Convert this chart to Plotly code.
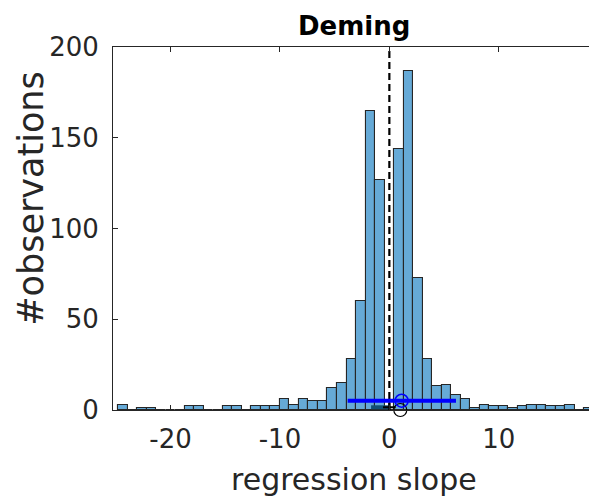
import plotly.graph_objects as go

# ---- data ----
bin_centers = [-24.36, -23.49, -22.62, -21.75, -20.88, -20.01, -19.14, -18.27, -17.40, -16.53,
               -15.66, -14.79, -13.92, -13.05, -12.18, -11.31, -10.44, -9.57, -8.70, -7.83,
               -6.96, -6.09, -5.22, -4.35, -3.48, -2.61, -1.74, -0.87, 0.0, 0.87,
               1.74, 2.61, 3.48, 4.35, 5.22, 6.09, 6.96, 7.83, 8.70, 9.57,
               10.44, 11.31, 12.18, 13.05, 13.92, 14.79, 15.66, 16.53, 17.40, 18.27]
counts = [3, 0, 1, 1, 0, 0, 0, 2, 2, 0,
          0, 2, 2, 0, 2, 2, 2, 6, 3, 6,
          5, 5, 12, 15, 28, 60, 165, 127, 0, 144,
          187, 73, 28, 13, 14, 8, 6, 1, 3, 2,
          2, 1, 2, 3, 3, 2, 2, 3, 0, 1]
bin_width = 0.87

ref_x = 0.0                      # dashed reference line
ci_blue_x = [-3.81, 6.09]        # blue interval
ci_blue_y = [5.1, 5.1]
blue_point = (1.12, 5.1)
ci_dark_x = [-1.67, 0.0]
ci_dark_y = [1.5, 1.5]
plus_point = (0.0, 1.5)
black_circle = (1.0, 0.0)

x_ticks = [-20, -10, 0, 10]
x_ticklabels = ["-20", "-10", "0", "10"]
y_ticks = [0, 50, 100, 150, 200]
y_ticklabels = ["0", "50", "100", "150", "200"]

title_text = "Deming"
x_title = "regression slope"
y_title = "#observations"

FONT = "DejaVu Sans"
AX = "#262626"

fig = go.Figure()
fig.add_trace(go.Bar(x=bin_centers, y=counts, width=bin_width,
                     marker=dict(color="#66AAD7", line=dict(color="#262626", width=1.1)),
                     showlegend=False, hoverinfo="skip"))
fig.add_trace(go.Scatter(x=[ref_x, ref_x], y=[0, 200], mode="lines",
                         line=dict(color="black", width=2.2, dash="7px,4px"),
                         showlegend=False, hoverinfo="skip"))
fig.add_trace(go.Scatter(x=ci_dark_x, y=ci_dark_y, mode="lines",
                         line=dict(color="#114f74", width=4),
                         showlegend=False, hoverinfo="skip", cliponaxis=False))
fig.add_trace(go.Scatter(x=[plus_point[0]], y=[plus_point[1]], mode="markers",
                         marker=dict(symbol="cross-thin", size=9, line=dict(color="black", width=2)),
                         showlegend=False, hoverinfo="skip"))
fig.add_trace(go.Scatter(x=[black_circle[0]], y=[black_circle[1]], mode="markers",
                         marker=dict(symbol="circle-open", size=13, color="black", line=dict(width=1.2)),
                         showlegend=False, hoverinfo="skip", cliponaxis=False))
fig.add_trace(go.Scatter(x=ci_blue_x, y=ci_blue_y, mode="lines",
                         line=dict(color="#0000FF", width=4),
                         showlegend=False, hoverinfo="skip"))
fig.add_trace(go.Scatter(x=[blue_point[0]], y=[blue_point[1]], mode="markers",
                         marker=dict(symbol="circle-open", size=13, color="#0000FF", line=dict(width=1.5)),
                         showlegend=False, hoverinfo="skip"))

# page body has an 8px default margin, so the figure is 8px smaller and offsets shrink by 8
fig.update_layout(
    template="none",
    width=589, height=489,
    margin=dict(l=105, r=3, t=39, b=87, autoexpand=False),
    paper_bgcolor="white", plot_bgcolor="white",
    bargap=0,
    font=dict(family=FONT, color=AX),
    xaxis=dict(range=[-25.26, 18.705], tickvals=x_ticks, ticktext=x_ticklabels,
               ticks="inside", ticklen=5, tickcolor=AX, tickwidth=1,
               showline=True, linecolor=AX, linewidth=1, mirror="ticks",
               showgrid=False, zeroline=False, automargin=False,
               tickfont=dict(family=FONT, size=26, color=AX), ticklabelstandoff=6),
    yaxis=dict(range=[0, 200], tickvals=y_ticks, ticktext=y_ticklabels,
               ticks="inside", ticklen=5, tickcolor=AX, tickwidth=1,
               showline=True, linecolor=AX, linewidth=1, mirror="ticks",
               showgrid=False, zeroline=False, automargin=False,
               tickfont=dict(family=FONT, size=26, color=AX), ticklabelstandoff=8),
    annotations=[
        dict(text="<b>" + title_text + "</b>", xref="paper", yref="paper", x=0.5, y=1,
             xanchor="center", yanchor="bottom", showarrow=False, yshift=4,
             font=dict(family=FONT, size=26, color="black")),
        dict(text=x_title, xref="paper", yref="paper", x=0.502, y=0,
             xanchor="center", yanchor="top", showarrow=False, yshift=-50,
             font=dict(family=FONT, size=30, color=AX)),
        dict(text=y_title, xref="paper", yref="paper", x=-0.172, y=0.5826,
             xanchor="center", yanchor="middle", showarrow=False, textangle=-90,
             font=dict(family=FONT, size=35, color=AX)),
    ],
)

fig.write_html("out.html")
